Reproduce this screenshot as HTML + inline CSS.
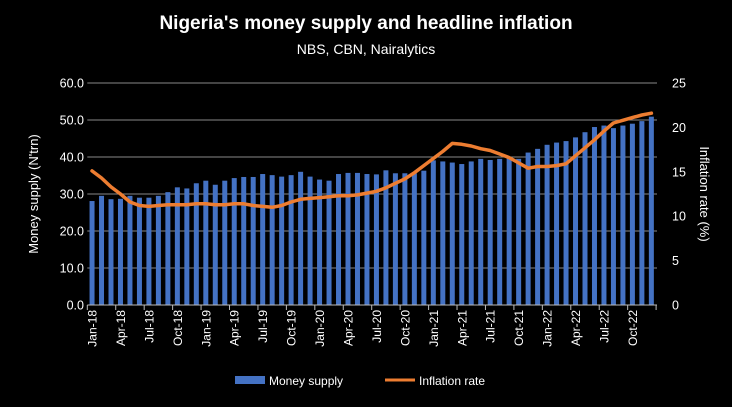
<!DOCTYPE html><html><head><style>body{margin:0;background:#000}svg{display:block;font-family:"Liberation Sans",sans-serif}</style></head><body>
<svg id="s" width="732" height="407" xmlns="http://www.w3.org/2000/svg">
<rect width="732" height="407" fill="#000"/>
<text x="366" y="29" fill="#fff" font-size="19" font-weight="bold" text-anchor="middle">Nigeria's money supply and headline inflation</text>
<text x="366" y="54" fill="#fff" font-size="14" text-anchor="middle">NBS, CBN, Nairalytics</text>
<text transform="translate(38,194) rotate(-90)" fill="#fff" font-size="13" text-anchor="middle">Money supply (N'trn)</text>
<text transform="translate(700,194) rotate(90)" fill="#fff" font-size="13" text-anchor="middle">Inflation rate (%)</text>
<rect x="235" y="376" width="30" height="8" fill="#4472c4"/>
<text x="269" y="385" fill="#fff" font-size="12">Money supply</text>
<line x1="385" y1="380" x2="415" y2="380" stroke="#ed7d31" stroke-width="3"/>
<text x="419" y="385" fill="#fff" font-size="12">Inflation rate</text>
<g id="g"></g>
</svg>
<script>
var m=[28.1,29.5,28.6,28.7,29.5,29,29,29.5,30.5,31.8,31.5,32.9,33.6,32.5,33.6,34.3,34.6,34.6,35.4,35.1,34.7,35.1,36,34.7,33.9,33.6,35.4,35.7,35.7,35.4,35.3,36.4,35.6,35.6,35.6,36.3,39.1,38.8,38.5,38.1,38.8,39.5,39.2,39.5,39.9,39.5,41.2,42.2,43.3,43.9,44.3,45.3,46.7,48.1,48.5,47.8,48.5,49,49.7,50.9];
var inf=[15.1,14.3,13.3,12.5,11.6,11.2,11.1,11.2,11.3,11.3,11.3,11.4,11.4,11.3,11.3,11.4,11.4,11.2,11.1,11.0,11.2,11.6,11.9,12.0,12.1,12.2,12.3,12.3,12.4,12.6,12.8,13.2,13.7,14.2,14.9,15.7,16.5,17.3,18.2,18.1,17.9,17.6,17.4,17.0,16.6,16.0,15.4,15.6,15.6,15.7,15.9,16.8,17.7,18.6,19.6,20.5,20.8,21.1,21.4,21.6];
var L=87.3,W=9.48,B=305,H=222,h="";
var mo=["Jan","Apr","Jul","Oct"];
for(var i=0;i<=6;i++){var y=B-i*H/6;if(i>0)h+='<line x1="'+L+'" x2="657" y1="'+y+'" y2="'+y+'" stroke="#888" stroke-width="1"/>';
h+='<text x="84" y="'+(y+4.5)+'" fill="#fff" font-size="12.5" text-anchor="end">'+(i*10).toFixed(1)+'</text>';}
for(i=0;i<=5;i++){var y=B-i*H/5;h+='<text x="672" y="'+(y+4.5)+'" fill="#fff" font-size="12.5">'+(i*5)+'</text>';}
for(i=0;i<60;i++){var c=L+W*(i+.5),bh=m[i]/60*H;h+='<rect x="'+(c-2.5)+'" y="'+(B-bh)+'" width="5" height="'+bh+'" fill="#4472c4"/>';}
h+='<line x1="'+L+'" x2="657" y1="'+B+'" y2="'+B+'" stroke="#bbb"/>';
for(i=0;i<=20;i++){var x=L+i*3*W;h+='<line x1="'+x+'" x2="'+x+'" y1="'+B+'" y2="'+(B+5)+'" stroke="#bbb"/>';
if(i<20){var c=L+W*(i*3+.5);h+='<text transform="translate('+(c+4.5)+',310) rotate(-90)" fill="#fff" font-size="12" text-anchor="end">'+mo[i%4]+'-'+(18+Math.floor(i/4))+'</text>';}}
var p="";for(i=0;i<60;i++){p+=(i?"L":"M")+(L+W*(i+.5)).toFixed(1)+","+(B-inf[i]/25*H).toFixed(1);}
h+='<path d="'+p+'" fill="none" stroke="#ed7d31" stroke-width="3.5" stroke-linejoin="round" stroke-linecap="round"/>';
document.getElementById("g").innerHTML=h;
</script></body></html>
